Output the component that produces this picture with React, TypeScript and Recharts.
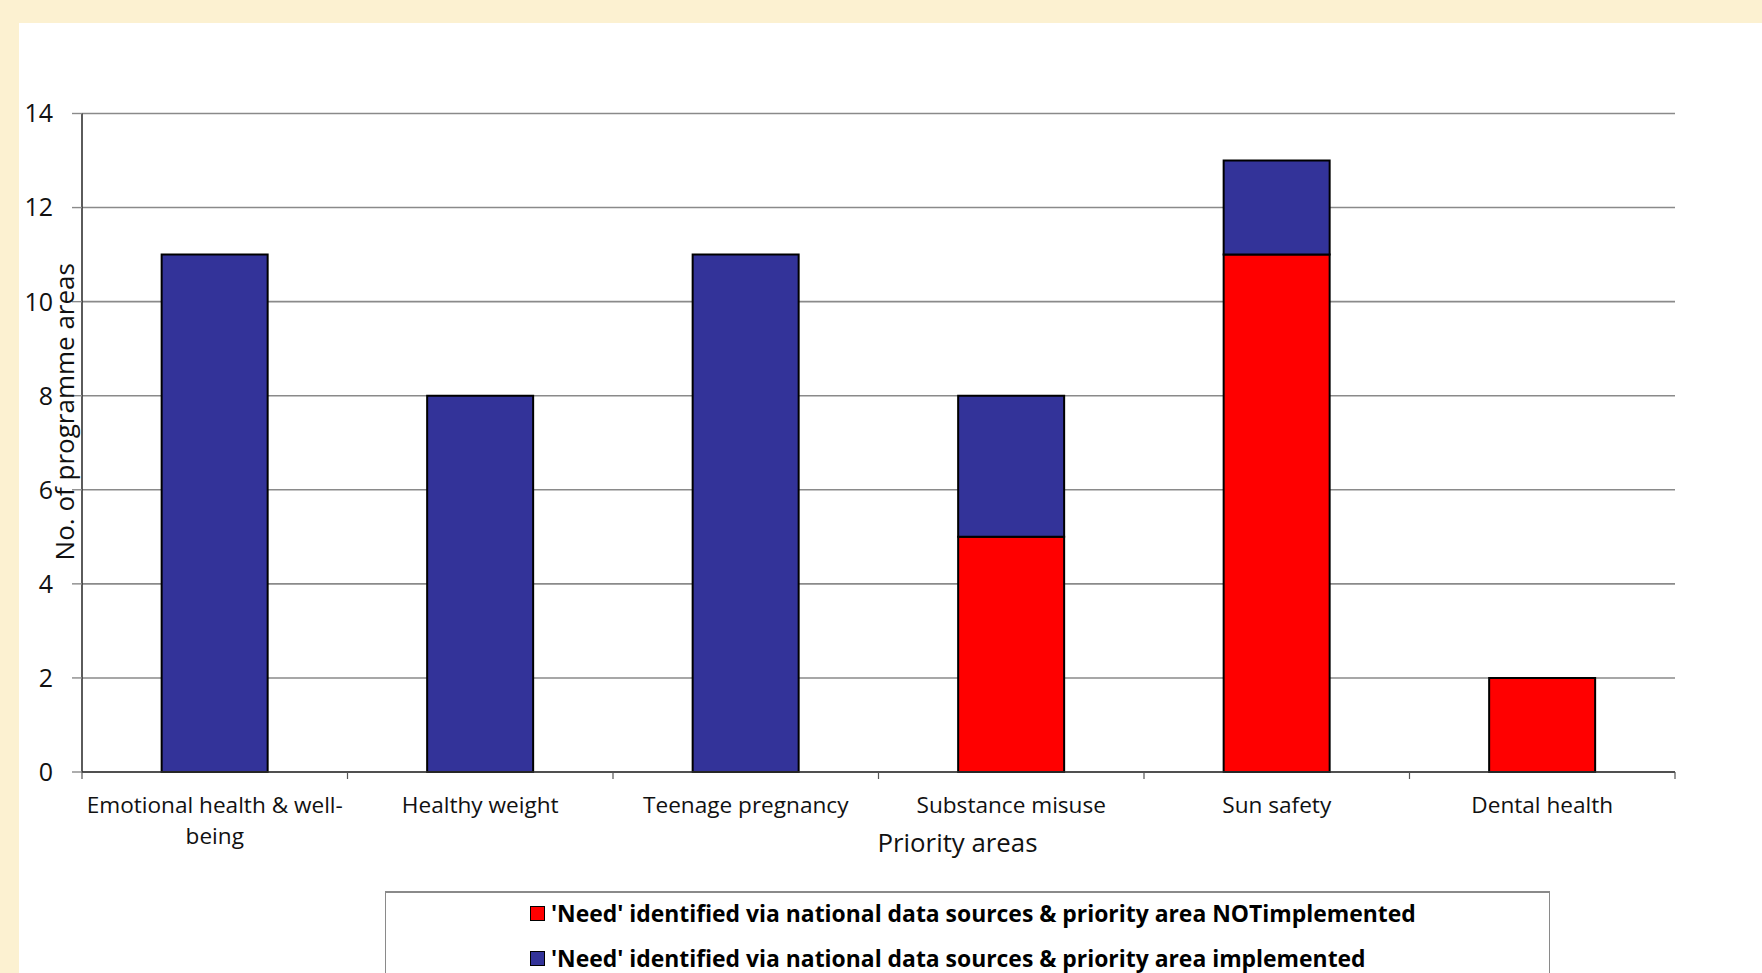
import { Bar, BarChart, CartesianGrid, Label, XAxis, YAxis } from "recharts";

const categories = [
  "Emotional health & well-being",
  "Healthy weight",
  "Teenage pregnancy",
  "Substance misuse",
  "Sun safety",
  "Dental health",
];
const notImplemented = [0, 0, 0, 5, 11, 2];
const implemented = [11, 8, 11, 3, 2, 0];
const yTicks = [0, 2, 4, 6, 8, 10, 12, 14];

const seriesKeys = ["notImpl", "impl"];
const seriesNames = [
  "'Need' identified via national data sources & priority area NOTimplemented",
  "'Need' identified via national data sources & priority area implemented",
];
const seriesColors = ["#FF0000", "#333399"];

const data = categories.map((name, i) => ({
  name,
  notImpl: notImplemented[i],
  impl: implemented[i],
}));

const FONT = "'Open Sans', 'DejaVu Sans', sans-serif";
const GRID = "#8a8a8a";
const INK = "#111";

const W = 1743;
const H = 950;
const MARGIN = { top: 90.5, right: 87, bottom: 171, left: 0 };
const Y_AXIS_W = 63;
const BAND = (W - MARGIN.right - MARGIN.left - Y_AXIS_W) / categories.length;

// break long labels after a space or hyphen
function wrap(label: string, max = 24): string[] {
  if (label.length <= max) return [label];
  const cut = label.slice(0, max + 1);
  const at = Math.max(cut.lastIndexOf(" "), cut.lastIndexOf("-") + 1);
  const i = at > 0 ? at : max;
  return [label.slice(0, i).trim(), label.slice(i).trim()];
}

function CategoryTick(props: any) {
  const { x, y, payload, index } = props;
  const lines = wrap(String(payload.value));
  const last = index === categories.length - 1;
  return (
    <g>
      <line x1={x - BAND / 2} x2={x - BAND / 2} y1={y} y2={y + 7} stroke="#555" strokeWidth={1.2} />
      {last && (
        <line x1={x + BAND / 2} x2={x + BAND / 2} y1={y} y2={y + 7} stroke="#555" strokeWidth={1.2} />
      )}
      <text x={x} y={y} textAnchor="middle" fill={INK} fontSize={22.6} fontFamily={FONT}>
        {lines.map((l, i) => (
          <tspan key={i} x={x} dy={i === 0 ? 41 : 31}>
            {l}
          </tspan>
        ))}
      </text>
    </g>
  );
}

function YTitle(props: any) {
  const { x, y, height } = props.viewBox;
  const cx = x + 55;
  const cy = y + height / 2 - 31;
  return (
    <text
      x={cx}
      y={cy}
      transform={`rotate(-90 ${cx} ${cy})`}
      textAnchor="middle"
      fill={INK}
      fontSize={26}
      fontFamily={FONT}
    >
      No. of programme areas
    </text>
  );
}

function XTitle(props: any) {
  const { x, y, width } = props.viewBox;
  return (
    <text
      x={x + width / 2 + 79}
      y={y + 80}
      textAnchor="middle"
      fill={INK}
      fontSize={25.8}
      fontFamily={FONT}
    >
      Priority areas
    </text>
  );
}

export default function App() {
  return (
    <div
      style={{
        position: "fixed",
        left: 0,
        top: 0,
        width: 1762,
        height: 973,
        background: "#FCF1D1",
        overflow: "hidden",
      }}
    >
      <div
        style={{
          position: "absolute",
          left: 19,
          top: 23,
          width: W,
          height: H,
          background: "#fff",
          overflow: "hidden",
        }}
      >
        <BarChart width={W} height={H} data={data} margin={MARGIN} barCategoryGap="30%">
          <CartesianGrid vertical={false} stroke={GRID} strokeWidth={1.6} />
          <XAxis
            dataKey="name"
            height={30}
            interval={0}
            tickLine={false}
            tickSize={0}
            tickMargin={0}
            axisLine={{ stroke: "#333", strokeWidth: 1.6 }}
            tick={<CategoryTick />}
          >
            <Label content={<XTitle />} />
          </XAxis>
          <YAxis
            width={Y_AXIS_W}
            domain={[0, 14]}
            ticks={yTicks}
            interval={0}
            tickSize={10}
            tickMargin={19}
            axisLine={{ stroke: "#333", strokeWidth: 1.6 }}
            tickLine={{ stroke: GRID, strokeWidth: 1.4 }}
            tick={{ fill: INK, fontSize: 25, fontFamily: FONT }}
          >
            <Label content={<YTitle />} />
          </YAxis>
          <YAxis
            yAxisId="r"
            orientation="right"
            width={0}
            domain={[0, 14]}
            tick={false}
            tickLine={false}
            axisLine={{ stroke: GRID, strokeWidth: 2 }}
          />
          {seriesKeys.map((k, i) => (
            <Bar
              key={k}
              dataKey={k}
              name={seriesNames[i]}
              stackId="a"
              fill={seriesColors[i]}
              stroke="#000"
              strokeWidth={2}
              isAnimationActive={false}
            />
          ))}
        </BarChart>
        <div
          style={{
            position: "absolute",
            left: 366,
            top: 868,
            width: 1165,
            height: 200,
            boxSizing: "border-box",
            border: `1.5px solid ${GRID}`,
            borderTop: `2.5px solid ${GRID}`,
            paddingLeft: 144,
            fontFamily: FONT,
            fontWeight: 700,
            fontSize: 22.9,
            color: "#000",
          }}
        >
          {seriesNames.map((n, i) => (
            <div
              key={n}
              style={{
                display: "flex",
                alignItems: "center",
                height: 45,
                marginTop: i === 0 ? -2 : 0,
              }}
            >
              <span
                style={{
                  width: 13,
                  height: 13,
                  background: seriesColors[i],
                  border: "1.5px solid #000",
                  marginRight: 6,
                  flexShrink: 0,
                }}
              />
              <span>{n}</span>
            </div>
          ))}
        </div>
      </div>
    </div>
  );
}
